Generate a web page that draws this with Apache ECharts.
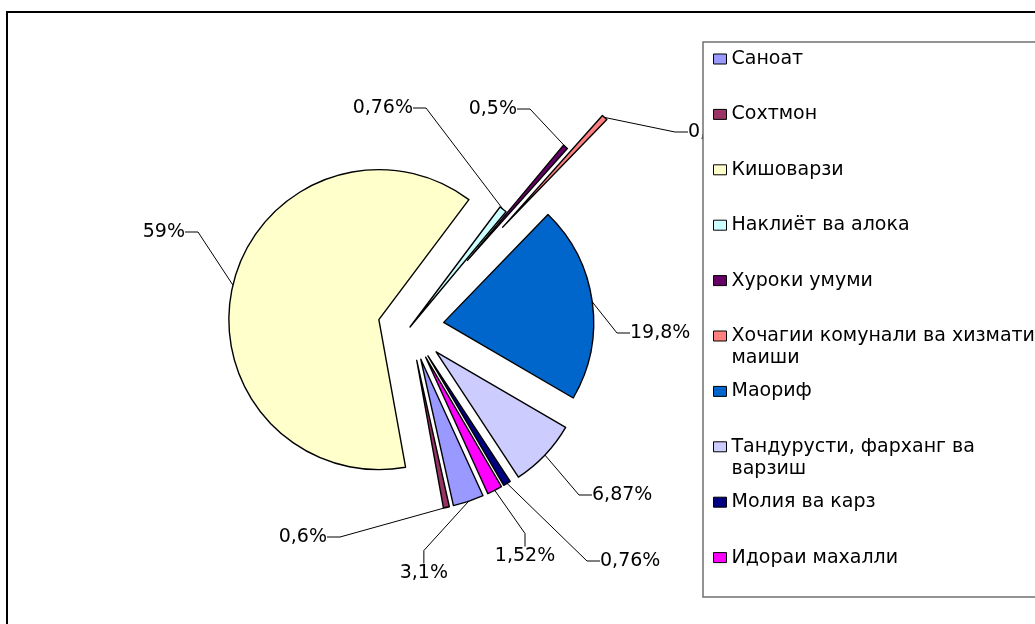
<!DOCTYPE html>
<html>
<head>
<meta charset="utf-8">
<script src="https://cdn.jsdelivr.net/npm/echarts@6/dist/echarts.min.js"></script>
<style>
  html, body { margin: 0; padding: 0; background: #fff; }
  #chart { width: 1035px; height: 624px; }
</style>
</head>
<body>
<div id="chart"></div>
<script>
// ---- data ----
const categories = [
  'Саноат',
  'Сохтмон',
  'Кишоварзи',
  'Наклиёт ва алока',
  'Хуроки умуми',
  'Хочагии комунали ва хизмати маиши',
  'Маориф',
  'Тандурусти, фарханг ва варзиш',
  'Молия ва карз',
  'Идораи махалли'
];
const values = [3.1, 0.6, 59, 0.76, 0.5, 0.6, 19.8, 6.87, 0.76, 1.52];

// ---- styles / layout ----
const colors = ['#9999FF', '#993366', '#FFFFCC', '#CCFFFF', '#660066',
                '#FF8080', '#0066CC', '#CCCCFF', '#000080', '#FF00FF'];
const explode = [34, 34, 32, 0, 88, 136, 34, 36, 34, 34];   // px pulled out from centre
const twoLineLegend = [false, false, false, false, false, true, false, true, false, false];
// label anchor [x, y, align]
const labelPos = [
  [448, 573, 'right'],
  [327, 537, 'right'],
  [185, 232, 'right'],
  [413, 108, 'right'],
  [517, 109, 'right'],
  [688, 132, 'left'],
  [630, 333, 'left'],
  [592, 495, 'left'],
  [600, 561, 'left'],
  [525, 556, 'center']
];
const PIE_CX = 410, PIE_CY = 327, PIE_R = 150, START_ANGLE = -65.5;
const FONT = 'DejaVu Sans';
const FONT_SIZE = 19;

function fmt(v) { return String(v).replace('.', ',') + '%'; }

const total = values.reduce((a, b) => a + b, 0);
let acc = 0;
const series = categories.map((name, i) => {
  const midDeg = START_ANGLE - (acc + values[i] / 2) / total * 360;
  acc += values[i];
  const rad = midDeg * Math.PI / 180;
  const center = [PIE_CX + explode[i] * Math.cos(rad), PIE_CY - explode[i] * Math.sin(rad)];
  return {
    type: 'pie',
    silent: true,
    center: center,
    radius: PIE_R,
    startAngle: START_ANGLE,
    clockwise: true,
    avoidLabelOverlap: false,
    emphasis: { disabled: true },
    label: {
      show: false,
      color: '#000',
      fontFamily: FONT,
      fontSize: FONT_SIZE,
      formatter: p => fmt(p.value)
    },
    labelLine: {
      show: false,
      length: 10,
      length2: 13,
      smooth: false,
      lineStyle: { color: '#000', width: 1 }
    },
    labelLayout: function () {
      const lp = labelPos[i];
      return { x: lp[0], y: lp[1], align: lp[2], verticalAlign: 'middle' };
    },
    data: categories.map((n, j) => ({
      name: n,
      value: values[j],
      itemStyle: j === i
        ? { color: colors[j], borderColor: '#000', borderWidth: 1.4 }
        : { color: 'rgba(0,0,0,0)', borderWidth: 0 },
      label: { show: j === i },
      labelLine: { show: j === i }
    }))
  };
});

const chart = echarts.init(document.getElementById('chart'), null, { renderer: 'canvas' });
chart.setOption({
  animation: false,
  backgroundColor: '#fff',
  textStyle: { fontFamily: FONT },
  graphic: [
    {
      type: 'rect', z: 1,
      shape: { x: 7, y: 12, width: 1100, height: 700 },
      style: { fill: 'none', stroke: '#000', lineWidth: 2 }
    },
    {
      type: 'rect', z: 3,
      shape: { x: 703, y: 42, width: 400, height: 555 },
      style: { fill: '#fff', stroke: '#707070', lineWidth: 1.5 }
    }
  ],
  legend: {
    z: 6,
    orient: 'vertical',
    left: 713,
    top: 26,
    padding: 0,
    itemGap: -10.6,
    itemWidth: 13,
    itemHeight: 10,
    icon: 'rect',
    selectedMode: false,
    // each entry is drawn as three rows (blank / first line / second line or blank)
    // so that the swatch lines up with the first text line as in the original
    formatter: function (name) {
      const j = categories.indexOf(name);
      return twoLineLegend[j]
        ? '\n' + name.replace(/ (\S+)$/, '\n$1')
        : '\n' + name + '\n ';
    },
    textStyle: {
      fontFamily: FONT,
      fontSize: FONT_SIZE,
      color: '#000',
      lineHeight: 22
    },
    data: categories.map((n, j) => ({
      name: n,
      itemStyle: { color: colors[j], borderColor: '#000', borderWidth: 1 }
    }))
  },
  series: series
});
</script>
</body>
</html>
